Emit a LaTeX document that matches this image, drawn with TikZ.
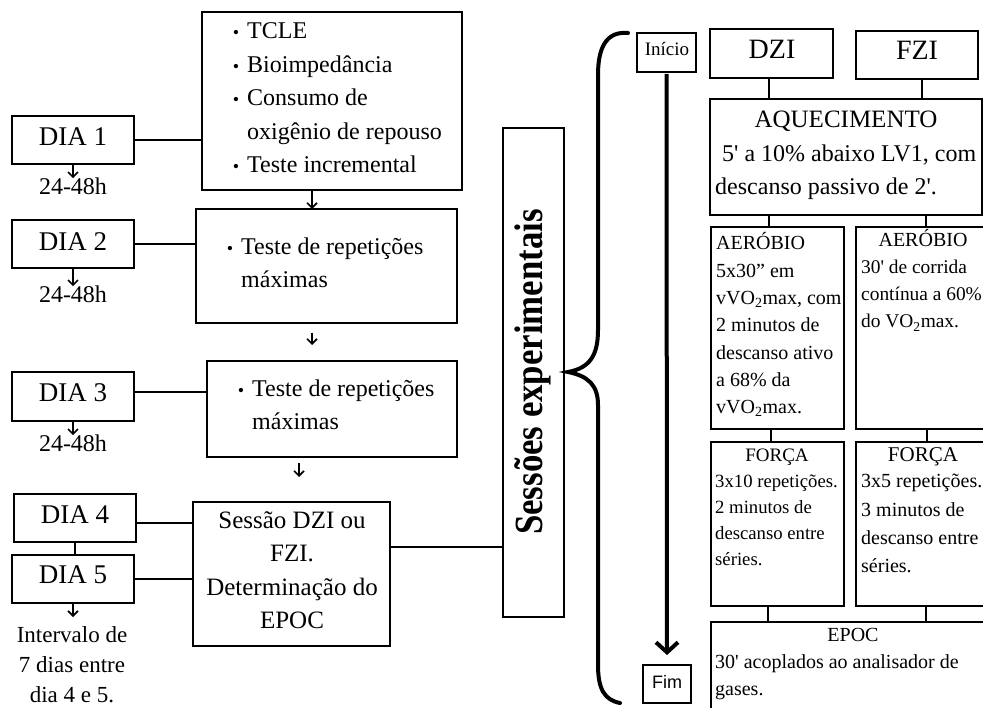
\documentclass[tikz,border=0pt]{standalone}
\usepackage{fontspec}
\setmainfont{Liberation Serif}
\newfontfamily\sansf{Liberation Sans}
\usepackage{graphicx}
\usetikzlibrary{arrows.meta}
\newcommand\fsz[1]{\fontsize{#1}{#1}\selectfont}
\newcommand\bul{\makebox[0pt][r]{{\fsz{18}\textbullet}\hspace{8pt}}}
\newcommand\vo{VO\textsubscript{2}}
\newcommand\qq{\textquotesingle}
\newcommand\textlines[6]{%
  \foreach \ltext [count=\li from 0] in {#6}
    \node[tl, font=#5] (#1\li) at (#2, #3+#4*\li) {\ltext};}
\begin{document}
\begin{tikzpicture}[x=1pt,y=-1pt,
  box/.style={draw, line width=2pt, inner sep=0pt, outer sep=0pt, anchor=north west},
  tl/.style={inner sep=0pt, anchor=base west},
  tc/.style={inner sep=0pt, anchor=base},
  conn/.style={line width=2pt},
  sarrow/.style={line width=1.6pt, -{Straight Barb[length=5pt,width=10pt,line width=1.6pt]}},
  bigarrow/.style={line width=4pt, -{Straight Barb[length=10pt,width=22pt,line width=4pt]}}]
\useasboundingbox (0,0) rectangle (983,708);
\clip (0,0) rectangle (983,708);
\fill[white] (0,0) rectangle (983,708);

% ---------- left column boxes ----------
\node[box, minimum width=122pt, minimum height=48pt] (dia1) at (12,116) {};
\node[box, minimum width=260pt, minimum height=178pt] (b1) at (202,12) {};
\node[box, minimum width=122pt, minimum height=48pt] (dia2) at (12,220) {};
\node[box, minimum width=261pt, minimum height=114pt] (b2) at (196,209) {};
\node[box, minimum width=122pt, minimum height=49pt] (dia3) at (12,372) {};
\node[box, minimum width=250pt, minimum height=96pt] (b3) at (207,361) {};
\node[box, minimum width=122pt, minimum height=48pt] (dia4) at (14,494) {};
\node[box, minimum width=122pt, minimum height=48pt] (dia5) at (12,555) {};
\node[box, minimum width=197pt, minimum height=144pt] (b4) at (193,502) {};
\node[box, minimum width=61pt, minimum height=489pt] (ses) at (503,128) {};

% texts left
\node[tc, font=\fsz{27}] (d1t) at (73,146) {DIA 1};
\node[tc, font=\fsz{27}] (d2t) at (73,251) {DIA 2};
\node[tc, font=\fsz{27}] (d3t) at (73,402) {DIA 3};
\node[tc, font=\fsz{27}] (d4t) at (75,523) {DIA 4};
\node[tc, font=\fsz{27}] (d5t) at (73,583) {DIA 5};
\node[tc, font=\fsz{24}] (h1) at (73,195) {24-48h};
\node[tc, font=\fsz{24}] (h2) at (73,303) {24-48h};
\node[tc, font=\fsz{24}] (h3) at (73,452) {24-48h};
\foreach \ltext [count=\li from 0] in {{Intervalo de},{7 dias entre},{dia 4 e 5.}}
  \node[tc, font=\fsz{23}] (iv\li) at (72, 642+30*\li) {\ltext};

\textlines{bA}{247}{39}{33.5}{\fsz{24}}{{\bul TCLE},{\bul Bioimpedância},{\bul Consumo de},{oxigênio de repouso},{\bul Teste incremental}}
\textlines{bB}{241}{255}{32.5}{\fsz{24}}{{\bul Teste de repetições},{máximas}}
\textlines{bC}{252}{397}{33}{\fsz{24}}{{\bul Teste de repetições},{máximas}}
\foreach \ltext [count=\li from 0] in {{Sessão DZI ou},{FZI.},{Determinação do},{EPOC}}
  \node[tc, font=\fsz{25}] (bD\li) at (292, 528+33.5*\li) {\ltext};

\node[tc, rotate=90, font=\fsz{40}\bfseries] (sest) at (542,372) {\scalebox{0.87}[1]{Sessões experimentais}};

% left connectors
\draw[conn] (dia1.east) -- (dia1.east -| b1.west);
\draw[conn] (dia2.east) -- (dia2.east -| b2.west);
\draw[conn] ([yshift=4pt]dia3.east) -- ([yshift=4pt]dia3.east -| b3.west);
\draw[conn] ([yshift=-5pt]dia4.east) -- ([yshift=-5pt]dia4.east -| b4.west);
\draw[conn] (dia5.east) -- (dia5.east -| b4.west);
\draw[conn] (dia4.south) -- (dia4.south |- dia5.north);
\draw[conn] ([yshift=27pt]b4.east) -- ([yshift=27pt]b4.east -| ses.west);

\draw[sarrow] (dia1.south) -- (dia1.south |- h1.north);
\draw[sarrow] (dia2.south) -- (dia2.south |- h2.north);
\draw[sarrow] (dia3.south) -- (dia3.south |- h3.north);
\draw[sarrow] (dia5.south) -- ([yshift=-14pt]dia5.south);
\draw[sarrow] ([xshift=110pt]b1.south west) -- ([xshift=110pt]b1.south west |- b2.north);
\draw[sarrow] ([xshift=116pt,yshift=-10pt]b2.south west) -- ++(0,12);
\draw[sarrow] ([xshift=92pt,yshift=-6pt]b3.south west) -- ++(0,14);

% ---------- brace ----------
\draw[line width=4pt, line cap=round]
  (628,33) .. controls (606,31) and (598,48) .. (598,75) -- (598,330)
  .. controls (598,355) and (590,368) .. (568,372)
  .. controls (588,376) and (598,385) .. (598,405) -- (598,665)
  .. controls (598,690) and (605,700) .. (620,703);

% ---------- timeline ----------
\node[box, minimum width=59pt, minimum height=39pt] (ini) at (637,33) {};
\node[tc, font=\fsz{19}] (init) at (667,56) {Início};
\node[box, minimum width=48pt, minimum height=38pt] (fim) at (643,665) {};
\node[tc, font=\sansf\fsz{18}] (fimt) at (667,688) {Fim};
\draw[bigarrow] ([yshift=-2pt]ini.south) -- ([yshift=10pt]fim.north);

% ---------- right column ----------
\node[box, minimum width=123pt, minimum height=49pt] (dzi) at (710,29) {};
\node[box, minimum width=122pt, minimum height=48pt] (fzi) at (856,31) {};
\node[box, minimum width=272pt, minimum height=116pt] (aq) at (710,99) {};
\node[box, minimum width=133pt, minimum height=202pt] (aeL) at (711,227) {};
\node[box, minimum width=140pt, minimum height=202pt] (aeR) at (856,227) {};
\node[box, minimum width=133pt, minimum height=164pt] (foL) at (711,442) {};
\node[box, minimum width=140pt, minimum height=164pt] (foR) at (856,442) {};
\node[box, minimum width=285pt, minimum height=100pt] (epoc) at (711,622) {};

\node[tc, font=\fsz{28}] (dzit) at (772,59) {DZI};
\node[tc, font=\fsz{28}] (fzit) at (917,60) {FZI};
\node[tc, font=\fsz{25}] (aqt) at (846,128) {AQUECIMENTO};
\node[tl, font=\fsz{24}] (aq1) at (722,162) {5\qq{} a 10\% abaixo LV1, com};
\node[tl, font=\fsz{24}] (aq2) at (715,195) {descanso passivo de 2\qq.};

\textlines{aeLt}{716}{250}{27.3}{\fsz{20}}{{AERÓBIO},{5x30” em},{v\vo max, com},{2 minutos de},{descanso ativo},{a 68\% da},{v\vo max.}}
\node[tc, font=\fsz{20}] (aeRh) at (923,247) {AERÓBIO};
\textlines{aeRt}{861}{274}{27}{\fsz{19.4}}{{30\qq{} de corrida},{contínua a 60\%},{do \vo max.}}
\node[tc, font=\fsz{19}] (foLh) at (777,461) {FORÇA};
\textlines{foLt}{715}{487}{26}{\fsz{18.7}}{{3x10 repetições.},{2 minutos de},{descanso entre},{séries.}}
\node[tc, font=\fsz{21}] (foRh) at (923,462) {FORÇA};
\textlines{foRt}{861}{488}{28}{\fsz{20}}{{3x5 repetições.},{3 minutos de},{descanso entre},{séries.}}
\node[tc, font=\fsz{20}] (epoch) at (853,641) {EPOC};
\textlines{epot}{715}{668}{27}{\fsz{20}}{{30\qq{} acoplados ao analisador de},{gases.}}

% right connectors
\draw[conn] ([xshift=-2.5pt]dzi.south) -- ([xshift=-2.5pt]dzi.south |- aq.north);
\draw[conn] ([xshift=5pt]fzi.south) -- ([xshift=5pt]fzi.south |- aq.north);
\draw[conn] ([xshift=-8.5pt]aeL.north |- aq.south) -- ([xshift=-8.5pt]aeL.north);
\draw[conn] (aeR.north |- aq.south) -- (aeR.north);
\draw[conn] ([xshift=-6.5pt]aeL.south) -- ([xshift=-6.5pt]aeL.south |- foL.north);
\draw[conn] ([xshift=1pt]aeR.south) -- ([xshift=1pt]aeR.south |- foR.north);
\draw[conn] ([xshift=-9.5pt]foL.south) -- ([xshift=-9.5pt]foL.south |- epoc.north);
\draw[conn] (foR.south) -- (foR.south |- epoc.north);
\end{tikzpicture}
\end{document}
